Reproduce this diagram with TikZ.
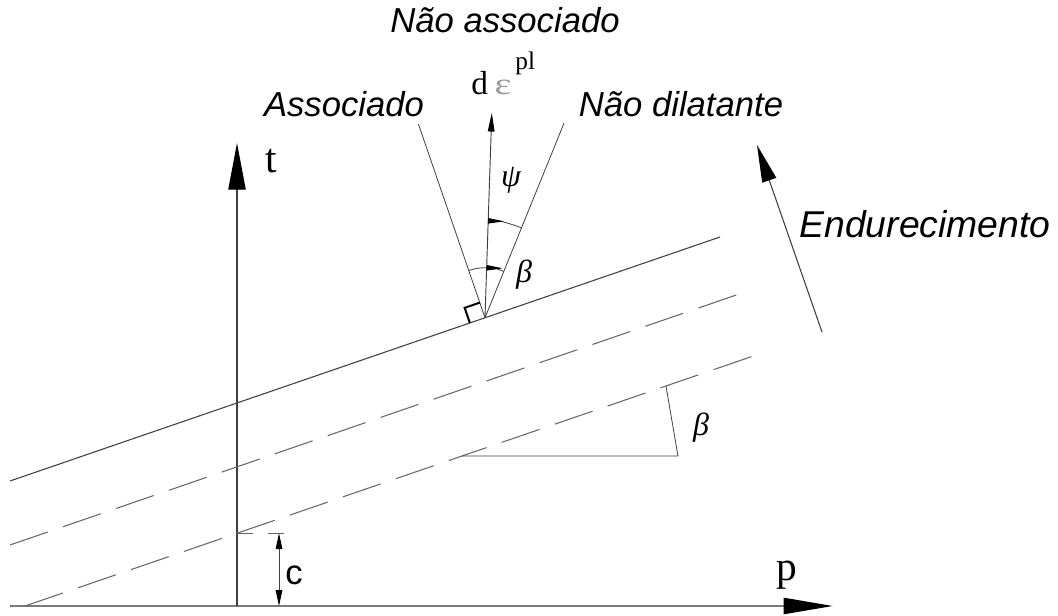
\documentclass[tikz,border=0pt]{standalone}
\usepackage{fontspec}
\setmainfont{Liberation Serif}
\newfontfamily\labelsans{Liberation Sans}
\usepackage{graphicx}
\usepackage{tikz}
\usetikzlibrary{arrows.meta,calc}
\definecolor{Ink}{HTML}{3F3F3F}
\definecolor{AxisGray}{HTML}{7A7A7A}
\definecolor{DashGray}{HTML}{686868}
\definecolor{EpsGray}{HTML}{9A9A9A}
\tikzset{
  paxis/.style={draw=AxisGray,line width=1.8pt,-{Triangle[length=37pt,width=12pt,color=black]}},
  taxis/.style={draw=Ink,line width=0.8pt,-{Triangle[length=35pt,width=13pt,color=black]}},
  hardarrow/.style={draw=Ink,line width=0.8pt,-{Triangle[length=28pt,width=11pt,color=black]}},
  flowarrow/.style={draw=Ink,line width=0.7pt,-{Triangle[length=14pt,width=5pt,color=black]}},
  dimarrow/.style={draw=Ink,line width=0.7pt,{Triangle[length=12pt,width=5pt,color=black]}-{Triangle[length=12pt,width=5pt,color=black]}},
  yieldline/.style={draw=Ink,line width=0.8pt},
  dashline/.style={draw=DashGray,line width=0.8pt,dash pattern=on 30pt off 12pt},
  ticklevel/.style={draw=DashGray,line width=0.8pt,dash pattern=on 12pt off 11pt},
  thinline/.style={draw=Ink,line width=0.6pt},
  anglearc/.style={draw=Ink,line width=0.6pt},
  arcarrow/.style={draw=Ink,line width=0.6pt,{Triangle[reversed,length=12pt,width=4pt,color=black]}-},
  rightangle/.style={draw=black,line width=1.5pt},
  lbl/.style={font=\labelsans\itshape\fontsize{26}{30}\selectfont,inner sep=0pt},
  axislbl/.style={font=\fontsize{31}{34}\selectfont,inner sep=0pt},
  clbl/.style={font=\labelsans\fontsize{26}{30}\selectfont,inner sep=0pt},
  greek/.style={font=\itshape\fontsize{24}{28}\selectfont,inner sep=0pt}
}
\begin{document}
\begin{tikzpicture}[x=0.75pt,y=0.75pt]
  \useasboundingbox (0,0) rectangle (1058,615);
  \coordinate (O) at (237,9);
  \coordinate (pStart) at (10,9);
  \coordinate (pTip) at (833,9);
  \coordinate (tTip) at (237,472);
  \coordinate (Sa) at (10,134);
  \coordinate (Sb) at (720,378);
  \coordinate (Da) at (10,70);
  \coordinate (Db) at (745,323);
  \coordinate (Ea) at (25,9);
  \coordinate (Eb) at (765,263);
  \coordinate (C) at ($(Sa)!0.669!(Sb)$);
  \coordinate (assocTop) at ($(C)+(108.97:205)$);
  \coordinate (flowTip) at ($(C)+(88.1:205)$);
  \coordinate (nondilTop) at ($(C)+(67.9:210)$);
  \coordinate (hardA) at (822,283);
  \coordinate (hardB) at (757,470);
  \coordinate (TrA) at ($(Ea)!0.5905!(Eb)$);
  \coordinate (TrB) at ($(TrA)+(216,0)$);
  \coordinate (TrC) at ($(Ea)!0.8662!(Eb)$);
  \coordinate (cLevel) at ($(Ea)!0.2865!(Eb)$);
  \coordinate (cTick) at ($(cLevel)+(55,0)$);
  \coordinate (cTop) at ($(cLevel)+(42,0)$);
  \coordinate (cBot) at (cTop |- O);

  \draw[paxis] (pStart) -- (pTip);
  \draw[taxis] (O) -- (tTip);
  \draw[yieldline] (Sa) -- (Sb);
  \draw[dashline] (Da) -- (Db);
  \draw[dashline] (Ea) -- (Eb);
  \draw[thinline] (TrA) -- (TrB) -- (TrC);
  \draw[ticklevel] (cLevel) -- (cTick);
  \draw[dimarrow] (cTop) -- (cBot);
  \draw[hardarrow] (hardA) -- (hardB);

  \draw[thinline] (C) -- (assocTop);
  \draw[thinline] (C) -- (nondilTop);
  \draw[flowarrow] (C) -- (flowTip);
  \draw[rightangle] ($(C)+(198.97:16)$) -- ($(C)+(198.97:16)+(108.97:16)$) -- ($(C)+(108.97:16)$);
  \draw[anglearc] ($(C)+(108.97:50)$) arc[start angle=108.97,end angle=88.1,radius=37.5pt];
  \draw[arcarrow] ($(C)+(88.1:50)$) arc[start angle=88.1,end angle=67.9,radius=37.5pt];
  \draw[arcarrow] ($(C)+(88.1:97)$) arc[start angle=88.1,end angle=67.9,radius=72.75pt];

  \node[lbl,anchor=base] (nonassoc) at (505,582) {Não associado};
  \node[lbl,anchor=base] (assoc) at (344,498) {Associado};
  \node[lbl,anchor=base] (nondil) at (681,498) {Não dilatante};
  \node[lbl,anchor=base,font=\labelsans\itshape\fontsize{28}{32}\selectfont] (hard) at (925,377) {Endurecimento};
  \node[axislbl,anchor=base] (tLabel) at (271,442) {t};
  \node[axislbl,anchor=base] (pLabel) at (787,35) {p};
  \node[clbl,anchor=base] (cLabel) at (294,31) {c};
  \node[greek] (psi) at (511,435) {ψ};
  \node[greek] (beta) at (524,340) {β};
  \node[greek] (betaTri) at (701,187) {β};
  \node[axislbl,anchor=base west,font=\fontsize{25}{28}\selectfont] (flowLabel) at (471,520)
    {d\hspace{5pt}\textcolor{EpsGray}{\scalebox{1.3}[1]{\fontsize{23}{26}\selectfont ε}}\hspace{3pt}\raisebox{19pt}{\fontsize{19}{22}\selectfont pl}};
\end{tikzpicture}
\end{document}
